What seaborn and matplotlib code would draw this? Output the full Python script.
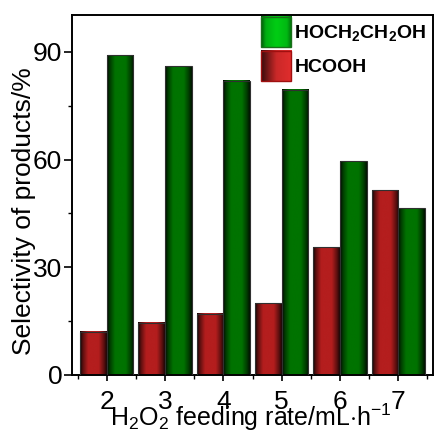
import numpy as np
import pandas as pd
import matplotlib
matplotlib.use("Agg")
import matplotlib.pyplot as plt
import seaborn as sns
from matplotlib.patches import Patch, Rectangle
from matplotlib.legend_handler import HandlerBase
from matplotlib.image import BboxImage
from matplotlib.transforms import Bbox, TransformedBbox

# data
rates = ["2", "3", "4", "5", "6", "7"]
hcooh = [12.0, 14.5, 17.0, 20.0, 35.5, 51.5]
glycol = [89.0, 86.0, 82.0, 79.5, 59.5, 46.5]
products = ["HCOOH", "HOCH2CH2OH"]
legend_labels = [r"HOCH$_\mathbf{2}$CH$_\mathbf{2}$OH", "HCOOH"]

df = pd.DataFrame({
    "rate": rates * 2,
    "sel": hcooh + glycol,
    "product": [products[0]] * len(rates) + [products[1]] * len(rates),
})

sns.set_style("ticks")
plt.rcParams["font.family"] = ["Liberation Sans", "DejaVu Sans"]
plt.rcParams["mathtext.fontset"] = "custom"
plt.rcParams["mathtext.rm"] = "Liberation Sans"
plt.rcParams["mathtext.it"] = "Liberation Sans"
plt.rcParams["mathtext.bf"] = "Liberation Sans:bold"
for k in ["text.color", "axes.labelcolor", "xtick.color", "ytick.color", "axes.edgecolor"]:
    plt.rcParams[k] = "black"

red = np.array([180, 30, 30]) / 255
green = np.array([0, 115, 0]) / 255

fig, ax = plt.subplots(figsize=(4.34, 4.37), dpi=100)
fig.subplots_adjust(left=0.166, right=0.997, top=0.966, bottom=0.142)

sns.barplot(data=df, x="rate", y="sel", hue="product", hue_order=products,
            order=rates, palette=[red, green], width=0.914, legend=False,
            saturation=1, ax=ax)

# horizontal shading: dark edges, bright middle
t_pts = [0, 0.1, 0.3, 0.7, 0.9, 1]
f_pts = [0.08, 0.5, 1, 1, 0.5, 0.15]
tt = np.linspace(0, 1, 64)
shade = np.interp(tt, t_pts, f_pts)

for p in list(ax.patches):
    fc = np.array(p.get_facecolor()[:3])
    base = red if np.allclose(fc, red, atol=0.02) else green
    grad = (shade[:, None] * base[None, :])[None, :, :]
    x0, w, h = p.get_x(), p.get_width(), p.get_height()
    ax.imshow(grad, extent=[x0, x0 + w, 0, h], aspect="auto",
              interpolation="bicubic", zorder=2)
    p.set_facecolor("none")
    p.set_edgecolor("#303030")
    p.set_linewidth(0.8)
    p.set_zorder(3)

ax.set_xlim(-0.595, 5.59)
ax.set_ylim(0, 100.3)
ax.set_yticks([0, 30, 60, 90])
ax.set_yticks([15, 45, 75], minor=True)
ax.set_xticks(np.arange(-0.5, 6, 1), minor=True)

for s in ax.spines.values():
    s.set_linewidth(1.4)
    s.set_color("black")

ax.tick_params(axis="both", which="major", direction="out", width=1.2, colors="black")
ax.tick_params(axis="y", which="major", length=6, pad=1, labelsize=19)
ax.tick_params(axis="x", which="major", length=4, pad=7, labelsize=19)
ax.tick_params(axis="both", which="minor", direction="out", length=3, width=1.0)

ax.set_xlabel(r"H$_2$O$_2$ feeding rate/mL$\cdot$h$^{-1}$", fontsize=18)
ax.set_ylabel("Selectivity of products/%", fontsize=19)
ax.xaxis.set_label_coords(0.496, -0.074)
ax.yaxis.set_label_coords(-0.1, 0.455)


class GradHandler(HandlerBase):
    def __init__(self, colors, edge):
        super().__init__()
        self.colors = colors
        self.edge = edge

    def create_artists(self, legend, orig_handle, xdescent, ydescent,
                       width, height, fontsize, trans):
        bb = TransformedBbox(Bbox.from_bounds(-xdescent, -ydescent, width, height), trans)
        img = BboxImage(bb, interpolation="bicubic")
        img.set_data(self.colors)
        rect = Rectangle((-xdescent, -ydescent), width, height, facecolor="none",
                         edgecolor=self.edge, linewidth=1.0, transform=trans)
        return [img, rect]


lt = np.linspace(0, 1, 32)
g_leg = np.interp(lt, [0, 0.15, 0.5, 0.85, 1], [0.45, 0.85, 1, 0.9, 0.55])
r_leg = np.interp(lt, [0, 0.15, 0.5, 1], [0.25, 0.45, 0.9, 1])
green_leg = (g_leg[:, None] * np.array([0, 205, 20])[None, :] / 255)[None, :, :]
red_leg = (r_leg[:, None] * np.array([225, 45, 45])[None, :] / 255)[None, :, :]

h_g = Patch()
h_r = Patch()
ax.legend([h_g, h_r], legend_labels, loc="upper right", bbox_to_anchor=(0.982, 0.995),
          frameon=False, prop={"size": 14, "weight": "bold"}, handlelength=1.55,
          handleheight=2.0, handletextpad=0.15, labelspacing=0.2, borderaxespad=0,
          borderpad=0,
          handler_map={h_g: GradHandler(green_leg, "#1a6e1a"),
                       h_r: GradHandler(red_leg, "#a01010")})

fig.savefig("out.png", dpi=100)
